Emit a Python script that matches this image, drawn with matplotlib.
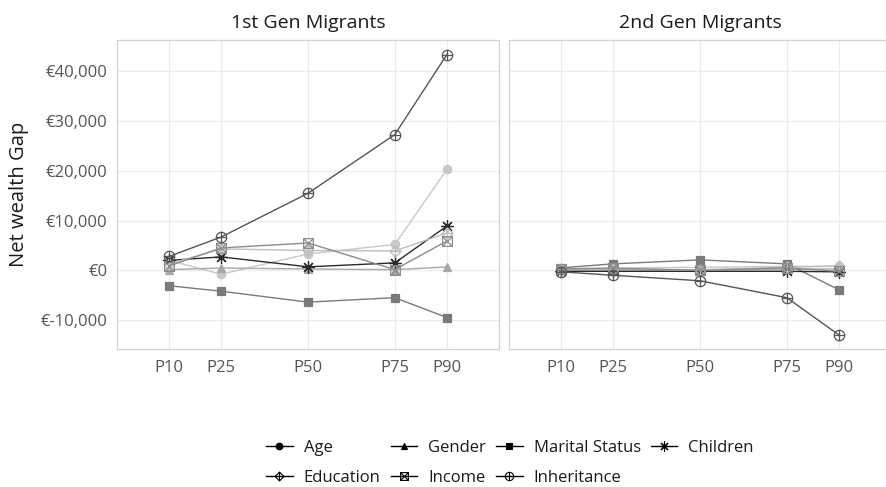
import numpy as np
import matplotlib
matplotlib.use("Agg")
import matplotlib.pyplot as plt
from matplotlib.path import Path
from matplotlib.lines import Line2D
from matplotlib.ticker import FuncFormatter

plt.rcParams['font.family'] = ['Open Sans', 'DejaVu Sans']

# ---------------- data ----------------
percentiles = [10, 25, 50, 75, 90]
tick_labels = ["P10", "P25", "P50", "P75", "P90"]
panels = ["1st Gen Migrants", "2nd Gen Migrants"]
series = ["Age", "Gender", "Marital Status", "Children", "Education", "Income", "Inheritance"]

# 1st generation
gen1_age = [2000, -800, 3300, 5200, 20300]
gen1_gender = [130, 470, 270, 130, 670]
gen1_marital = [-3100, -4200, -6400, -5500, -9500]
gen1_children = [2000, 2700, 700, 1500, 8900]
gen1_education = [1300, 4300, 4000, 3900, 7500]
gen1_income = [900, 4500, 5500, 150, 5900]
gen1_inheritance = [2800, 6700, 15500, 27300, 43400]

# 2nd generation
gen2_age = [300, 500, 600, 800, 800]
gen2_gender = [100, 100, 100, 200, 300]
gen2_marital = [500, 1300, 2100, 1300, -3900]
gen2_children = [-200, -200, -200, -200, -300]
gen2_education = [200, 300, 100, 600, 900]
gen2_income = [300, 400, 0, 500, -200]
gen2_inheritance = [-300, -1000, -2100, -5500, -13000]

gen1 = [gen1_age, gen1_gender, gen1_marital, gen1_children,
        gen1_education, gen1_income, gen1_inheritance]
gen2 = [gen2_age, gen2_gender, gen2_marital, gen2_children,
        gen2_education, gen2_income, gen2_inheritance]


# ---------------- custom markers ----------------
def compound(outline, extra):
    verts = list(outline) + [outline[0]]
    codes = [Path.MOVETO] + [Path.LINETO] * (len(outline) - 1) + [Path.CLOSEPOLY]
    for a, b in extra:
        verts += [a, b]
        codes += [Path.MOVETO, Path.LINETO]
    return Path(verts, codes)

circ = Path.unit_circle()
circle_plus = Path.make_compound_path(
    circ, Path([(-1, 0), (1, 0), (0, -1), (0, 1)],
               [Path.MOVETO, Path.LINETO, Path.MOVETO, Path.LINETO]))
diamond_plus = compound([(0, 1), (1, 0), (0, -1), (-1, 0)],
                        [((0, 1), (0, -1)), ((-1, 0), (1, 0))])
square_cross = compound([(-1, -1), (1, -1), (1, 1), (-1, 1)],
                        [((-1, -1), (1, 1)), ((-1, 1), (1, -1))])

styles = {
    "Age": dict(color="#c8c8c8", marker="o", ms=6, mfc="#c8c8c8"),
    "Gender": dict(color="#a8a8a8", marker="^", ms=6, mfc="#a8a8a8"),
    "Marital Status": dict(color="#7a7a7a", marker="s", ms=6, mfc="#7a7a7a"),
    "Children": dict(color="#2a2a2a", marker=(8, 2, 0), ms=9, mfc="#2a2a2a"),
    "Education": dict(color="#bdbdbd", marker=diamond_plus, ms=8, mfc="none"),
    "Income": dict(color="#8c8c8c", marker=square_cross, ms=7, mfc="none"),
    "Inheritance": dict(color="#555555", marker=circle_plus, ms=7.5, mfc="none"),
}

# ---------------- figure ----------------
fig = plt.figure(figsize=(8.87, 4.87), dpi=100)
W, H = 887.0, 487.0
ax_w = 382.0
ax1 = fig.add_axes([117 / W, 1 - 349 / H, ax_w / W, 309 / H])
ax2 = fig.add_axes([509 / W, 1 - 349 / H, ax_w / W, 309 / H])

euro = FuncFormatter(lambda v, p: ("€-" if v < 0 else "€") + "{:,.0f}".format(abs(v)))

for ax, data, title in zip([ax1, ax2], [gen1, gen2], panels):
    for name, vals in zip(series, data):
        st = styles[name]
        ax.plot(percentiles, vals, color=st["color"], lw=1.0,
                marker=st["marker"], ms=st["ms"], mfc=st["mfc"],
                mec=st["color"], mew=0.9)
    ax.set_xlim(-5, 105)
    ax.set_ylim(-15825, 46325)
    ax.set_xticks(percentiles)
    ax.set_xticklabels(tick_labels)
    ax.set_yticks([-10000, 0, 10000, 20000, 30000, 40000])
    ax.yaxis.set_major_formatter(euro)
    ax.grid(True, color="#ebebeb", lw=0.9)
    ax.set_axisbelow(True)
    for sp in ax.spines.values():
        sp.set_color("#d2d2d2")
        sp.set_linewidth(0.9)
    ax.tick_params(length=0, labelsize=12, colors="#555555")
    ax.tick_params(axis="x", pad=8)
    ax.tick_params(axis="y", pad=7)
    ax.set_title(title, fontsize=14, color="#1a1a1a", pad=9)

ax2.tick_params(labelleft=False)
ax1.set_ylabel("Net wealth Gap", fontsize=14.5, color="#1a1a1a", labelpad=8)

# legend (black keys)
order = ["Age", "Education", "Gender", "Income", "Marital Status", "Inheritance", "Children"]
handles = []
for name in order:
    st = styles[name]
    handles.append(Line2D([], [], color="black", lw=1.0, marker=st["marker"],
                          ms=st["ms"] * 0.8,
                          mfc="none" if st["mfc"] == "none" else "black",
                          mec="black", mew=0.8))
fig.legend(handles, order, loc="center", bbox_to_anchor=(0.575, 0.05), ncol=4,
           frameon=False, fontsize=12, handlelength=1.6, columnspacing=0.6,
           handletextpad=0.66, labelspacing=0.85, labelcolor="#1a1a1a")

fig.savefig("out.png", dpi=100)
